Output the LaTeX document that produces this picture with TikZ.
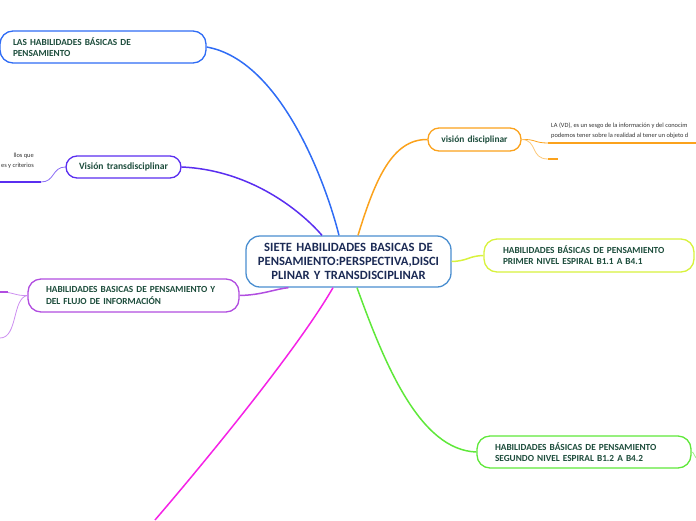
\documentclass[tikz,border=0pt]{standalone}
\usepackage{fontspec}
\setmainfont{Carlito}
\usetikzlibrary{arrows,shapes}
\definecolor{txtgreen}{HTML}{1D4D3C}
\definecolor{navy}{HTML}{1C2B55}
\definecolor{cblue}{HTML}{4A8ED0}
\definecolor{lblue}{HTML}{2F6CF5}
\definecolor{tviolet}{HTML}{5A2EF0}
\definecolor{fpurple}{HTML}{B14DE0}
\definecolor{lpurple}{HTML}{CC8EF0}
\definecolor{mag}{HTML}{F522E6}
\definecolor{lgreen}{HTML}{5FE83A}
\definecolor{ylime}{HTML}{D8F23C}
\definecolor{orng}{HTML}{FBA21C}
\definecolor{lorng}{HTML}{FCC878}
\tikzstyle{hbox}=[rectangle,rounded corners=13pt,line width=1.3pt,fill=white,text=txtgreen,font=\bfseries\fontsize{9.3}{11.2}\selectfont,align=left,minimum height=32pt]
\tikzstyle{branch}=[line width=1.5pt]
\tikzstyle{twig}=[line width=0.8pt]

\begin{document}
\begin{tikzpicture}[x=1pt,y=-1pt]
\useasboundingbox (0,0) rectangle (696,520);
\node[hbox,draw=cblue,text=navy,align=center,font=\bfseries\fontsize{12.6}{14}\selectfont,text width=199pt,inner xsep=3pt,minimum height=51pt,rounded corners=14pt] (C) at (348.5,261.5) {SIETE HABILIDADES BASICAS DE\\PENSAMIENTO:PERSPECTIVA,DISCI\\PLINAR Y TRANSDISCIPLINAR};
\node[hbox,draw=lblue,text width=180pt,inner xsep=13pt] (L) at (103,47) {LAS HABILIDADES BÁSICAS DE\\PENSAMIENTO};
\node[hbox,draw=tviolet,align=center,font=\bfseries\fontsize{9.6}{10}\selectfont,text width=99pt,inner xsep=8pt,minimum height=22pt,rounded corners=11pt] (T) at (123.5,167) {Visión transdisciplinar};
\node[hbox,draw=fpurple,text width=175pt,inner xsep=18pt,minimum height=33pt] (F) at (133.5,295.5) {HABILIDADES BASICAS DE PENSAMIENTO Y\\DEL FLUJO DE INFORMACIÓN};
\node[hbox,draw=orng,align=center,font=\bfseries\fontsize{9.4}{10}\selectfont,text width=81pt,inner xsep=6pt,minimum height=23pt,rounded corners=11pt] (V) at (474.5,139.5) {visión disciplinar};
\node[hbox,draw=ylime,text width=172pt,inner xsep=19pt,minimum height=33pt] (P1) at (589,255.5) {HABILIDADES BÁSICAS DE PENSAMIENTO\\PRIMER NIVEL ESPIRAL B1.1 A B4.1};
\node[hbox,draw=lgreen,text width=178pt,inner xsep=18pt] (P2) at (584,452) {HABILIDADES BÁSICAS DE PENSAMIENTO\\SEGUNDO NIVEL ESPIRAL B1.2 A B4.2};
\node[anchor=west,align=left,font=\fontsize{6.4}{10.5}\selectfont,text=black!80,inner sep=0pt] (vdtxt) at (551,130.5) {LA (VD), es un sesgo de la información y del conocim\\podemos tener sobre la realidad al tener un objeto d};
\node[anchor=east,align=right,font=\fontsize{6.4}{10}\selectfont,text=black!80,inner sep=0pt] (tdtxt) at (34,160.5) {llos que\\es y criterios};
\coordinate (vdend) at (696,143);\coordinate (vdknee) at (548,143);
\coordinate (vdstub) at (548,159);\coordinate (vdstubend) at (558,159);
\coordinate (tdknee) at (41,182);\coordinate (tdend) at (0,182);
\coordinate (fup) at (0,292);\coordinate (fdown) at (0,338);
\coordinate (magend) at (155,520);\coordinate (p2stub) at (696,458);
% main branches
\draw[branch,lblue](L.east) .. controls (280,60) and (325,180) .. ([xshift=-9.5pt]C.north);
\draw[branch,tviolet](T.east) .. controls (250,170) and (300,210) .. ([xshift=-26.5pt]C.north);
\draw[branch,fpurple](F.east) .. controls (262,295) and (275,289) .. ([xshift=-60pt]C.south);
\draw[branch,mag]([xshift=-15.5pt]C.south) .. controls (300,345) and (215,450) .. (magend);
\draw[branch,lgreen]([xshift=8.5pt]C.south) .. controls (385,365) and (420,450) .. (P2.west);
\draw[branch,ylime](C.east) .. controls (468,261) and (468,256) .. (P1.west);
\draw[branch,orng]([xshift=9.5pt]C.north) .. controls (375,180) and (392,139) .. (V.west);
% sub branches
\draw[twig,orng](V.east) .. controls (536,139) and (534,143) .. (vdknee);\draw[line width=2.5pt,orng](vdknee)--(vdend);
\draw[twig,lorng](V.east) .. controls (538,140) and (530,159) .. (vdstub);\draw[line width=1.8pt,orng](vdstub)--(vdstubend);
\draw[twig,tviolet!70](T.west) .. controls (52,167) and (55,182) .. (tdknee);\draw[line width=2pt,tviolet](tdknee)--(tdend);
\draw[twig,lpurple](F.west) .. controls (15,296) and (14,292) .. (fup);\draw[line width=1.6pt,fpurple]([xshift=8pt]fup)--(fup);
\draw[twig,lpurple](F.west) .. controls (12,298) and (18,338) .. (fdown);
\draw[twig,lgreen!60](P2.east) .. controls (694,452) and (694,456) .. (p2stub);
\end{tikzpicture}
\end{document}
